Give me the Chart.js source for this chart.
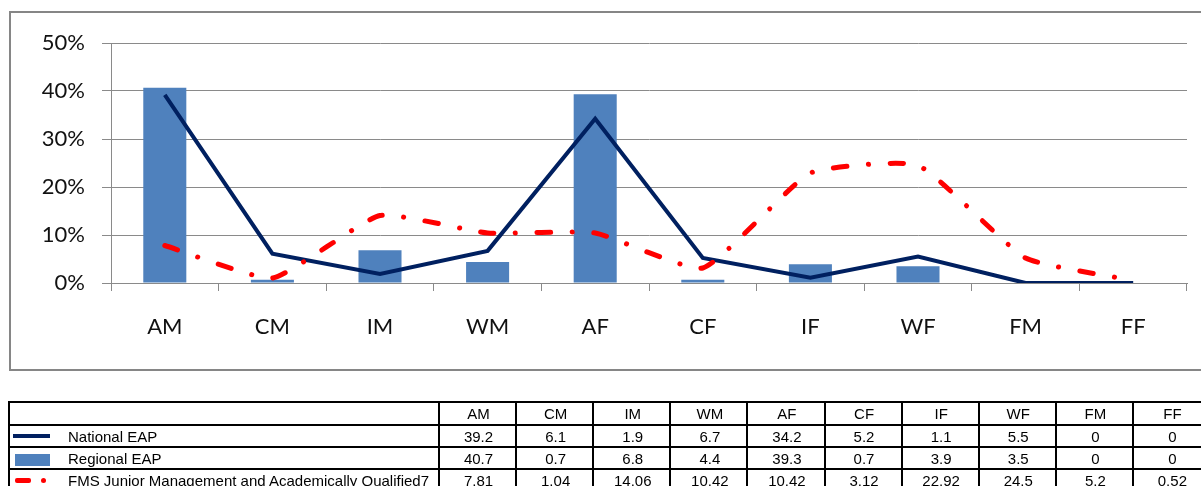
<!DOCTYPE html>
<html>
<head>
<meta charset="utf-8">
<script src="https://cdn.jsdelivr.net/npm/chart.js@4.4.1/dist/chart.umd.min.js"></script>
<style>
  html, body { margin: 0; padding: 0; background: #fff; }
  body { width: 1201px; height: 486px; position: relative; overflow: hidden; }
  #chartWrap { position: absolute; left: 0; top: 0; width: 1201px; height: 372px; }
  #frame { position: absolute; left: 9px; top: 11px; width: 1230px; height: 356px;
           border: 2px solid #868686; pointer-events: none; }
  #table { position: absolute; left: 0; top: 0; width: 1201px; height: 486px; overflow: hidden;
           font-family: "Liberation Sans", Arial, sans-serif; font-size: 15px; color: #000; }
  .cell { position: absolute; box-sizing: border-box; border-left: 2px solid #000; border-top: 2px solid #000;
          text-align: center; white-space: nowrap; overflow: hidden; }
  .name { text-align: left; }
  .key { position: absolute; }
</style>
</head>
<body>
<div id="chartWrap"><canvas id="c" width="1201" height="372"></canvas></div>
<div id="frame"></div>
<div id="table"></div>
<script>
// Occupational categories along the x axis
const categories = ['AM', 'CM', 'IM', 'WM', 'AF', 'CF', 'IF', 'WF', 'FM', 'FF'];

// Series values (percent)
const nationalEAP = [39.2, 6.1, 1.9, 6.7, 34.2, 5.2, 1.1, 5.5, 0, 0];
const regionalEAP = [40.7, 0.7, 6.8, 4.4, 39.3, 0.7, 3.9, 3.5, 0, 0];
const fmsJuniorQualified = [7.81, 1.04, 14.06, 10.42, 10.42, 3.12, 22.92, 24.5, 5.2, 0.52];

// Series names used in the data table
const seriesNames = ['National EAP', 'Regional EAP', 'FMS Junior Management and Academically Qualified7'];

// Y axis tick values (percent)
const yTicks = [0, 10, 20, 30, 40, 50];

const NAVY = '#002060';
const BLUE = '#4F81BD';
const RED = '#FF0000';
const GRID = '#8a8a8a';

function buildChart() {
  const ctx = document.getElementById('c').getContext('2d');
  new Chart(ctx, {
    data: {
      labels: categories,
      datasets: [
        {
          type: 'line', label: seriesNames[2], data: fmsJuniorQualified,
          borderColor: RED, borderWidth: 5, borderDash: [13.5, 21.5, 0.1, 21.5],
          borderCapStyle: 'round', tension: 0.15, pointRadius: 0, fill: false, order: 1
        },
        {
          type: 'line', label: seriesNames[0], data: nationalEAP,
          borderColor: NAVY, borderWidth: 4, tension: 0, pointRadius: 0,
          borderJoinStyle: 'miter', fill: false, order: 2
        },
        {
          type: 'bar', label: seriesNames[1], data: regionalEAP,
          backgroundColor: BLUE, borderWidth: 0,
          categoryPercentage: 1, barPercentage: 0.4, order: 3
        }
      ]
    },
    options: {
      responsive: false,
      animation: false,
      devicePixelRatio: 1,
      layout: { padding: { left: 0, top: 43, right: 14, bottom: 0 } },
      plugins: { legend: { display: false }, tooltip: { enabled: false } },
      scales: {
        x: {
          offset: true,
          grid: { offset: true, drawOnChartArea: false, drawTicks: true, tickLength: 8, color: GRID, lineWidth: 1 },
          border: { display: true, color: GRID, width: 1 },
          ticks: { color: '#111', font: { family: 'Lato', size: 22 }, padding: 23, maxRotation: 0, autoSkip: false },
          afterFit: (s) => { s.height = 372 - 283; }
        },
        y: {
          min: yTicks[0], max: yTicks[yTicks.length - 1],
          afterBuildTicks: (s) => { s.ticks = yTicks.map(v => ({ value: v })); },
          grid: { color: GRID, lineWidth: 1, drawTicks: true, tickLength: 9 },
          border: { display: true, color: GRID, width: 1 },
          ticks: { color: '#111', font: { family: 'Lato', size: 22 }, padding: 17,
                   callback: (v) => v + '%' },
          afterFit: (s) => { s.width = 111; }
        }
      }
    }
  });
}

// Data table under the chart, built from the same arrays
function buildTable() {
  const host = document.getElementById('table');
  const colX = [8, 438];
  for (let i = 1; i < categories.length; i++) colX.push(438 + i * 77.1);
  colX.push(1240);
  const rowY = [401, 424, 446, 468, 491];
  const rows = [
    { name: '', values: categories },
    { name: seriesNames[0], values: nationalEAP.map(String) },
    { name: seriesNames[1], values: regionalEAP.map(String) },
    { name: seriesNames[2], values: fmsJuniorQualified.map(String) }
  ];
  rows.forEach((row, r) => {
    const top = rowY[r], h = rowY[r + 1] - rowY[r];
    for (let c = 0; c <= categories.length; c++) {
      const d = document.createElement('div');
      d.className = 'cell' + (c === 0 ? ' name' : '');
      const left = colX[c];
      const w = c === categories.length ? 77.1 : colX[c + 1] - colX[c];
      d.style.left = left + 'px'; d.style.top = top + 'px';
      d.style.width = (c === categories.length ? 120 : w + 2) + 'px';
      d.style.height = (h + 2) + 'px';
      d.style.lineHeight = (h - 1) + 'px';
      if (c === 0) {
        d.style.paddingLeft = '58px';
        d.textContent = row.name;
      } else {
        d.style.paddingRight = (c === categories.length ? (120 - 79) + 'px' : '0');
        d.textContent = row.values[c - 1];
      }
      host.appendChild(d);
    }
  });
  // legend keys in the first column
  const keys = [
    { left: 13, top: 434, width: 37, height: 4, bg: NAVY, r: 0 },
    { left: 15, top: 454, width: 35, height: 12, bg: BLUE, r: 0 },
    { left: 15, top: 478, width: 16, height: 5, bg: RED, r: 2 },
    { left: 41, top: 478, width: 5, height: 5, bg: RED, r: 2.5 }
  ];
  keys.forEach(k => {
    const d = document.createElement('div');
    d.className = 'key';
    Object.assign(d.style, { left: k.left + 'px', top: k.top + 'px', width: k.width + 'px',
      height: k.height + 'px', background: k.bg, borderRadius: k.r + 'px' });
    host.appendChild(d);
  });
}

buildTable();
const ready = document.fonts && document.fonts.load ? document.fonts.load('22px Lato') : Promise.resolve();
ready.then(buildChart, buildChart);
</script>
</body>
</html>
